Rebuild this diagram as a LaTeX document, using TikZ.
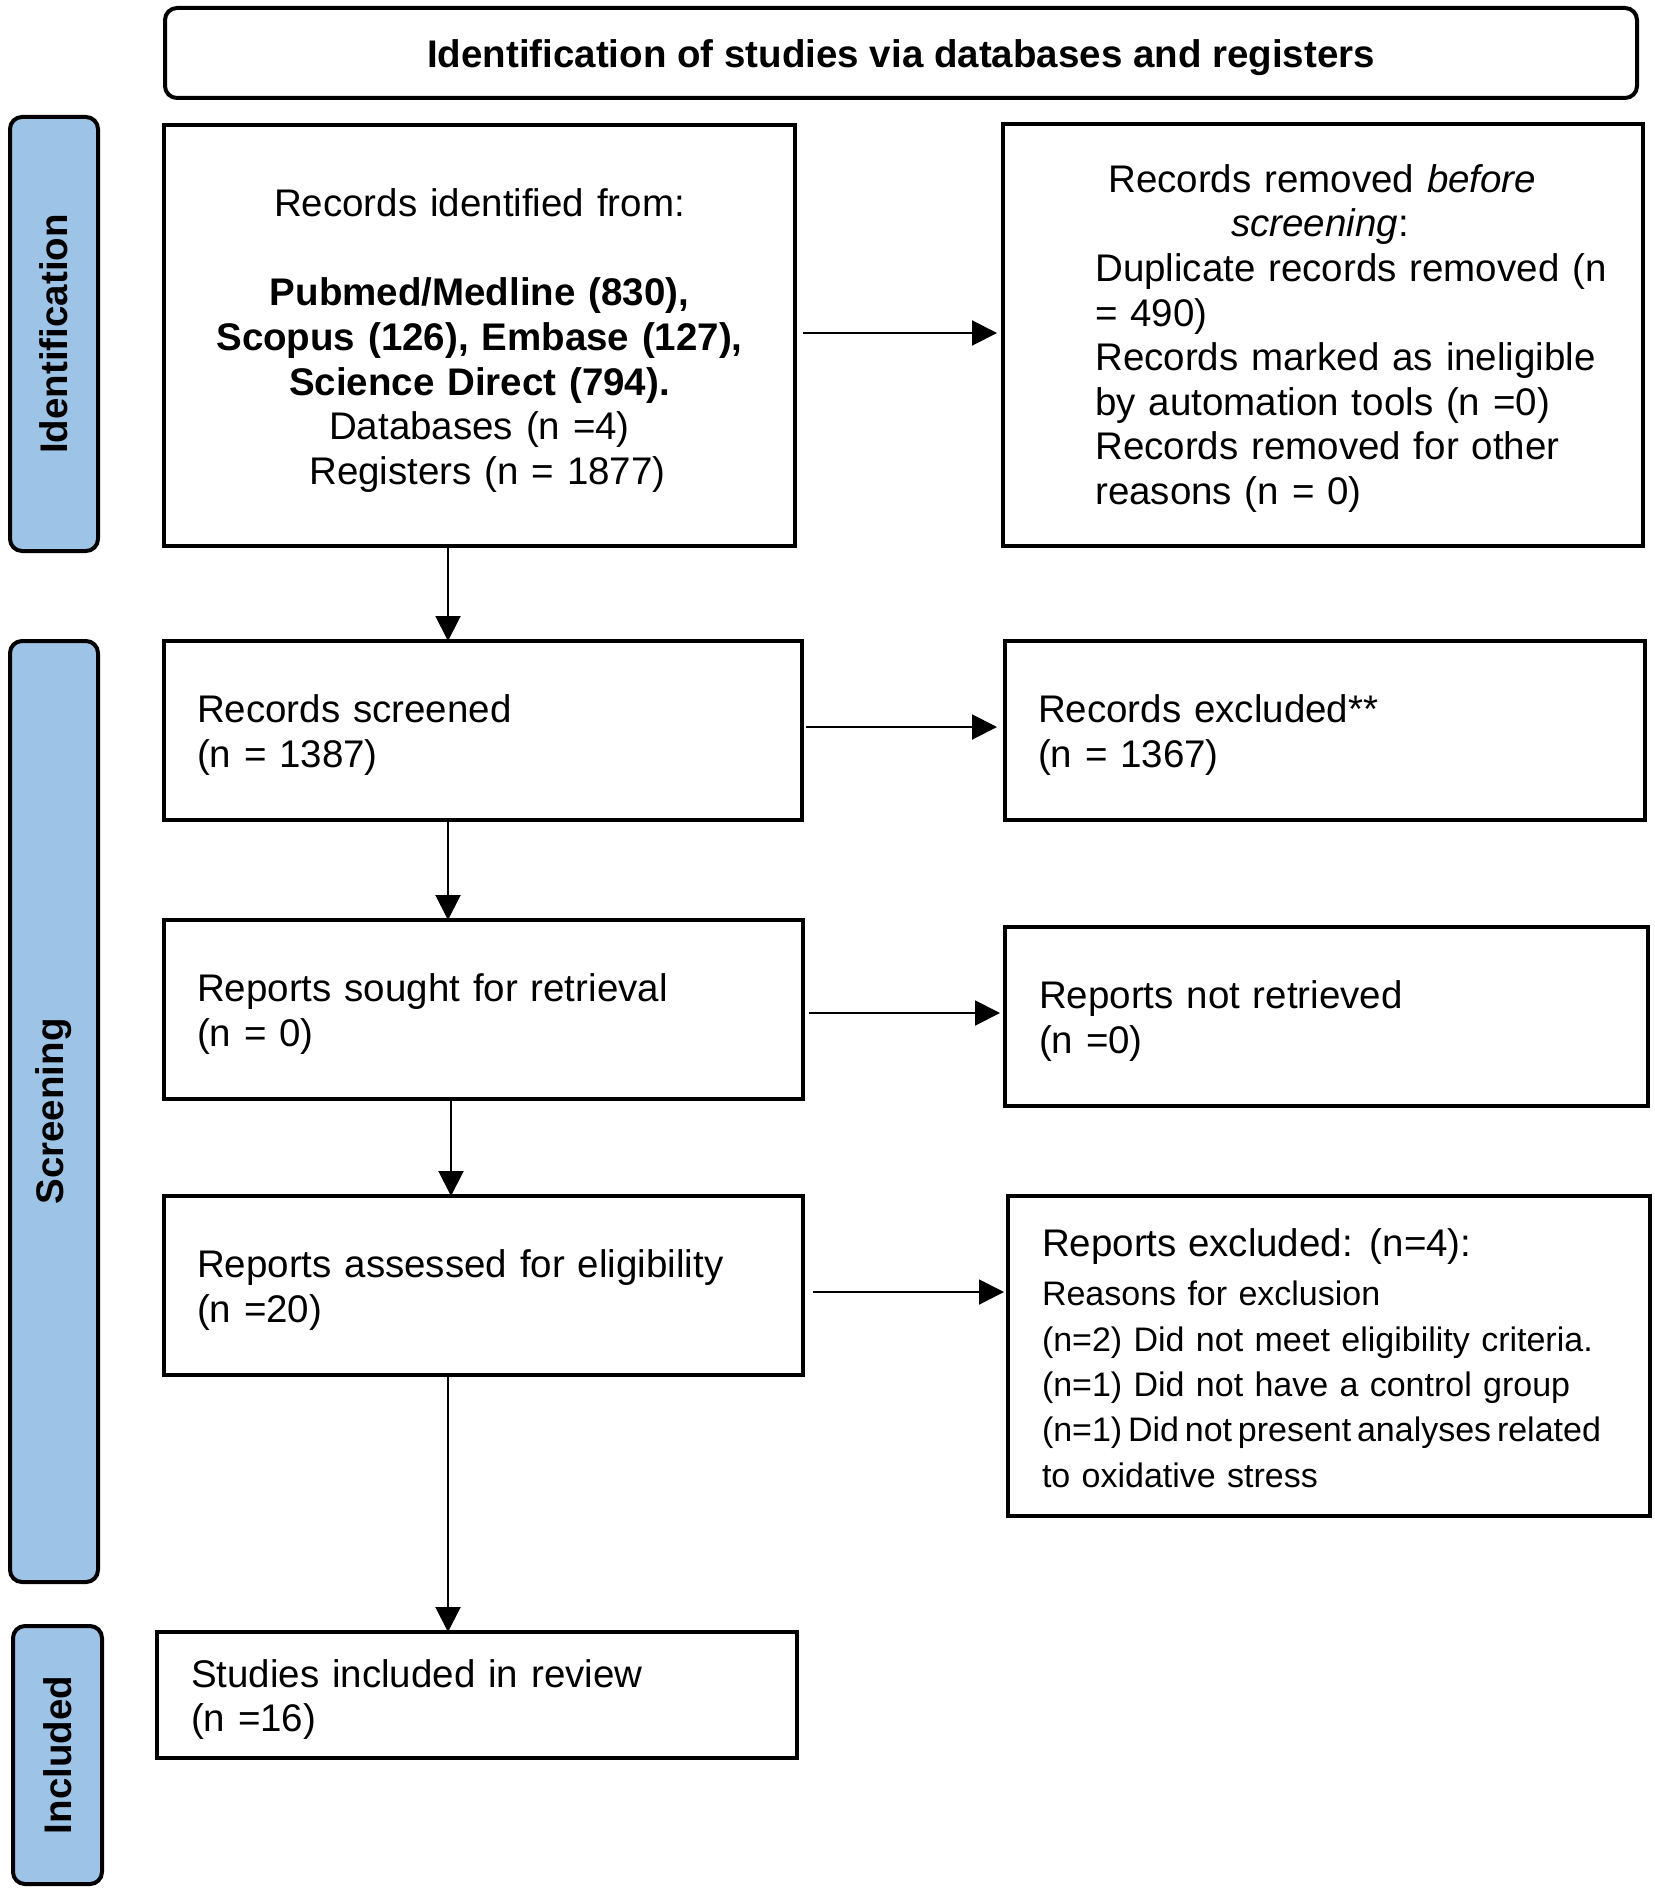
\documentclass[tikz,border=0pt]{standalone}
\usepackage{fontspec}
\setmainfont{Liberation Sans}
\usetikzlibrary{arrows.meta}
\definecolor{sideblue}{RGB}{157,195,230}
\begin{document}
\begin{tikzpicture}[x=1pt,y=-1pt,
  every node/.style={font=\fontsize{38.5}{44.6}\selectfont},
  box/.style={draw, line width=4pt, rectangle, inner sep=0pt, outer sep=0pt},
  rbox/.style={box, rounded corners=12pt},
  side/.style={rbox, fill=sideblue},
  sidelabel/.style={font=\fontsize{38.5}{44.6}\selectfont\bfseries, rotate=90, inner sep=0pt},
  txt/.style={inner sep=0pt, align=left},
  arr/.style={line width=2pt, -{Triangle[length=25pt,width=25pt]}}]
\useasboundingbox (0,0) rectangle (1654,1892);

% title
\node[rbox, minimum width=1472pt, minimum height=90pt] (title) at (901,53) {};
\node[inner sep=0pt] (titletxt) at ([yshift=-4.5pt]title.center)
  {\bfseries Identification of studies via databases and registers};

% side bars
\node[side, minimum width=88pt, minimum height=434pt] (sideI) at (54,334) {};
\node[side, minimum width=88pt, minimum height=941pt] (sideS) at (54,1111.5) {};
\node[side, minimum width=89pt, minimum height=258pt] (sideInc) at (57.5,1755) {};
\node[sidelabel] (labI) at (sideI.center) {Identification};
\node[sidelabel] (labS) at (sideS.center) {Screening};
\node[sidelabel] (labInc) at (sideInc.center) {Included};

% boxes
\node[box, minimum width=631pt, minimum height=421pt] (recId) at (479.5,335.5) {};
\node[box, minimum width=640pt, minimum height=422pt] (removed) at (1323,335) {};
\node[box, minimum width=638pt, minimum height=179pt] (screened) at (483,730.5) {};
\node[box, minimum width=640pt, minimum height=179pt] (excl) at (1325,730.5) {};
\node[box, minimum width=639pt, minimum height=179pt] (sought) at (483.5,1009.5) {};
\node[box, minimum width=643pt, minimum height=179pt] (notret) at (1326.5,1016.5) {};
\node[box, minimum width=639pt, minimum height=179pt] (assessed) at (483.5,1285.5) {};
\node[box, minimum width=642pt, minimum height=320pt] (repexcl) at (1329,1356) {};
\node[box, minimum width=640pt, minimum height=126pt] (included) at (477,1695) {};

% texts
\node[txt, align=center, text width=565pt] (recIdtxt) at ([yshift=-5pt]recId.center)
  {Records identified from:\\[44.6pt]
   \textbf{Pubmed/Medline (830),}\\
   \textbf{Scopus (126), Embase (127),}\\
   \textbf{Science Direct (794).}\\
   Databases (n =4)\\
   \hspace*{16pt}Registers (n = 1877)};

\node[txt, anchor=west, text width=540pt] (removedtxt) at ([xshift=92pt,yshift=-3.5pt]removed.west)
  {\hspace*{13pt}Records removed \textit{before}\\
   \hspace*{136pt}\textit{screening}:\\
   Duplicate records removed (n\\
   = 490)\\
   Records marked as ineligible\\
   by automation tools (n =0)\\
   Records removed for other\\
   reasons (n = 0)};

\node[txt, text width=572pt] (screenedtxt) at ([yshift=-4.5pt]screened.center)
  {Records screened\\(n = 1387)};
\node[txt, text width=574pt] (excltxt) at ([yshift=-4.5pt]excl.center)
  {Records excluded**\\(n = 1367)};
\node[txt, text width=573pt] (soughttxt) at ([yshift=-4.5pt]sought.center)
  {Reports sought for retrieval\\(n = 0)};
\node[txt, text width=575pt] (notrettxt) at ([yshift=-4.5pt]notret.center)
  {Reports not retrieved\\(n =0)};
\node[txt, text width=573pt] (assessedtxt) at ([yshift=-4.5pt]assessed.center)
  {Reports assessed for eligibility\\(n =20)};
\node[txt, text width=574pt, font=\fontsize{34}{45.3}\selectfont] (repexcltxt) at ([yshift=-2pt]repexcl.center)
  {{\fontsize{38.5}{45.3}\selectfont Reports excluded: (n=4):}\\[4.2pt]
   Reasons for exclusion\\
   (n=2) Did not meet eligibility criteria.\\
   (n=1) Did not have a control group\\
   \mbox{\spaceskip=0.17em\relax (n=1) Did not present analyses related}\\
   to oxidative stress};
\node[txt, text width=572pt] (includedtxt) at ([yshift=-4.5pt]included.center)
  {Studies included in review\\(n =16)};

% connectors
\coordinate (colA) at (448,0);
\coordinate (colB) at (451,0);
\draw[arr] (recId.south -| colA) -- (screened.north -| colA);
\draw[arr] (screened.south -| colA) -- (sought.north -| colA);
\draw[arr] (sought.south -| colB) -- (assessed.north -| colB);
\draw[arr] (assessed.south -| colA) -- (included.north -| colA);

\draw[arr, shorten <=8pt, shorten >=6pt] ([yshift=2.5pt]recId.east) -- ([yshift=2.5pt]recId.east -| removed.west);
\draw[arr, shorten <=4pt, shorten >=8pt] ([yshift=3.5pt]screened.east) -- ([yshift=3.5pt]screened.east -| excl.west);
\draw[arr, shorten <=6pt, shorten >=5pt] ([yshift=-3.5pt]sought.east) -- ([yshift=-3.5pt]sought.east -| notret.west);
\draw[arr, shorten <=10pt, shorten >=4pt] ([yshift=-6.5pt]assessed.east) -- ([yshift=-6.5pt]assessed.east -| repexcl.west);
\end{tikzpicture}
\end{document}
